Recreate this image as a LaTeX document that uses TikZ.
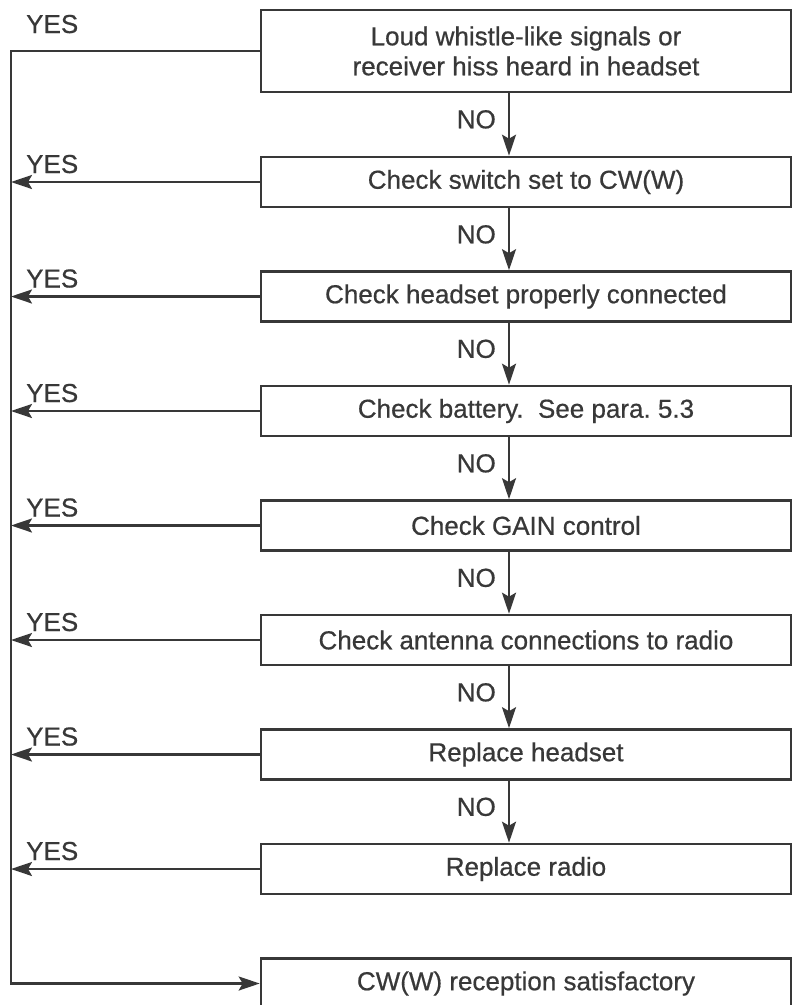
\documentclass[tikz,border=0pt]{standalone}
\usepackage{fontspec}
\setmainfont{Liberation Sans}[FakeBold=0.6]
\usetikzlibrary{arrows.meta}
\definecolor{ink}{HTML}{383838}
\begin{document}
\begin{tikzpicture}[x=1pt,y=-1pt,
  font=\fontsize{26}{30}\selectfont,
  every node/.style={text=ink},
  box/.style={draw=ink, line width=2.6pt, minimum width=530pt, minimum height=50pt,
              inner sep=0pt, align=center},
  link/.style={draw=ink, line width=2.4pt},
  arr/.style={link, -{Stealth[length=21pt,width=14pt,inset=4pt]}},
  lbl/.style={inner sep=0pt}
]
\clip (0,0) rectangle (795,1005);
\fill[white] (0,0) rectangle (795,1005);

\coordinate (ax) at (509,0);
\coordinate (rail) at (11,0);

\node[box, minimum height=82pt] (b1) at (526,51) {Loud whistle-like signals or\\receiver hiss heard in headset};
\node[box] (b2) at (526,182) {Check switch set to CW(W)};
\node[box] (b3) at (526,296.5) {Check headset properly connected};
\node[box] (b4) at (526,411) {Check battery.\ \ See para.\ 5.3};
\node[box] (b5) at (526,525.5) {Check GAIN control};
\node[box] (b6) at (526,640) {Check antenna connections to radio};
\node[box] (b7) at (526,754.5) {Replace headset};
\node[box] (b8) at (526,869) {Replace radio};
\node[box] (b9) at (526,983.5) {CW(W) reception satisfactory};

% NO arrows
\foreach \a/\b in {b1/b2,b2/b3,b3/b4,b4/b5,b5/b6,b6/b7,b7/b8}{
  \draw[arr] (\a.south -| ax) -- (\b.north -| ax);
  \path (\a.south -| ax) ++(-13,35) node[lbl, anchor=base east] {NO};
}

% YES rail
\draw[arr] (b1.west) -- (b1.west -| rail) -- (b9.west -| rail) -- (b9.west);
\path (b1.west -| rail) ++(15,-18) node[lbl, anchor=base west] {YES};

\foreach \a in {b2,b3,b4,b5,b6,b7,b8}{
  \draw[arr] (\a.west) -- (\a.west -| rail);
  \path (\a.west -| rail) ++(15,-9) node[lbl, anchor=base west] {YES};
}
\end{tikzpicture}
\end{document}
